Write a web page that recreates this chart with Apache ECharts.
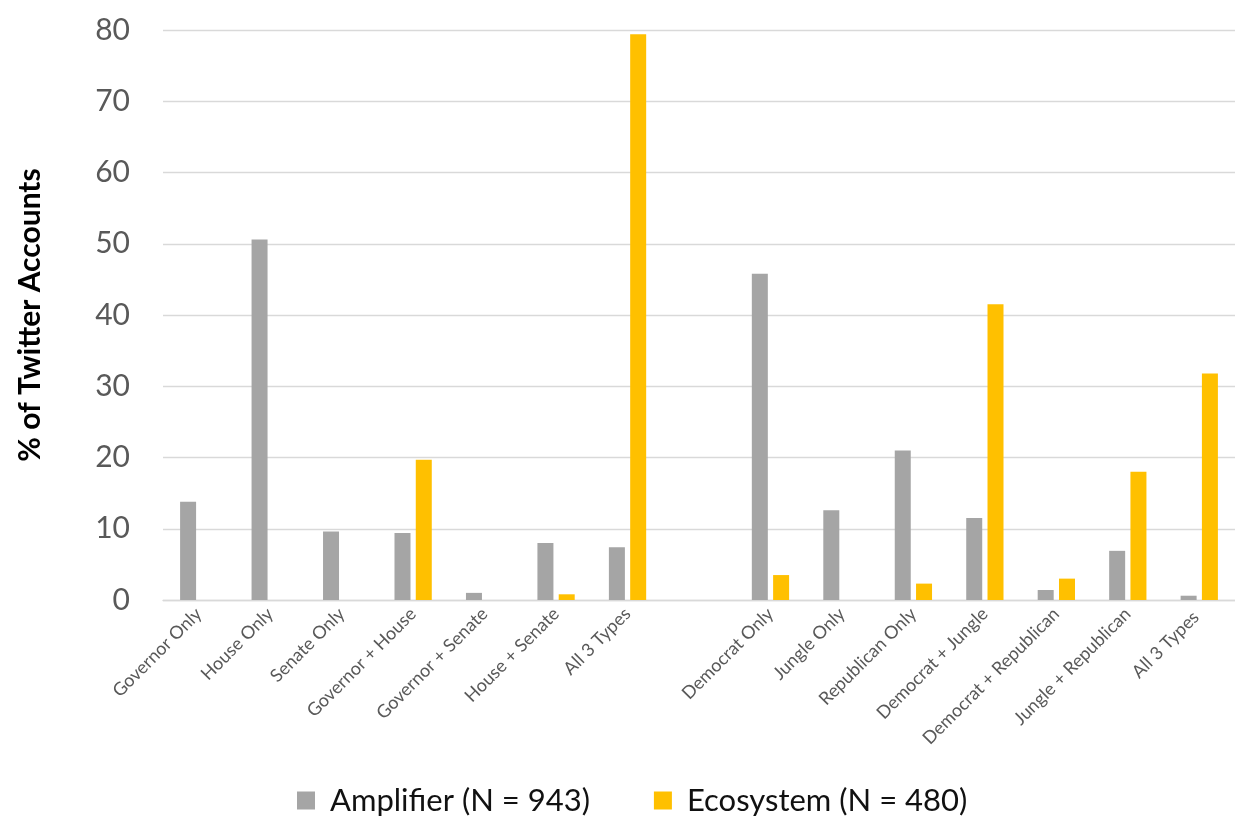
<!DOCTYPE html>
<html>
<head>
<meta charset="utf-8">
<script src="https://cdn.jsdelivr.net/npm/echarts@6/dist/echarts.min.js"></script>
<style>
  html, body { margin: 0; padding: 0; background: #ffffff; }
  #chart { width: 1235px; height: 817px; }
</style>
</head>
<body>
<div id="chart"></div>
<script>
// Office-type combinations (left group) and party/primary combinations (right group),
// separated by one empty slot.
const categories = [
  'Governor Only', 'House Only', 'Senate Only', 'Governor + House',
  'Governor + Senate', 'House + Senate', 'All 3 Types',
  '',
  'Democrat Only', 'Jungle Only', 'Republican Only', 'Democrat + Jungle',
  'Democrat + Republican', 'Jungle + Republican', 'All 3 Types '
];

// % of Twitter accounts per group
const amplifier = [13.8, 50.6, 9.6, 9.4, 1.0, 8.0, 7.4, null, 45.8, 12.6, 21.0, 11.5, 1.4, 6.9, 0.6];
const ecosystem = [null, null, null, 19.7, null, 0.8, 79.4, null, 3.5, null, 2.3, 41.5, 3.0, 18.0, 31.8];

const seriesNames = ['Amplifier (N = 943)', 'Ecosystem (N = 480)'];
const yTicks = { min: 0, max: 80, interval: 10 };

const chart = echarts.init(document.getElementById('chart'), null, { renderer: 'canvas' });

chart.setOption({
  backgroundColor: '#ffffff',
  animation: false,
  grid: { left: 163, right: -8, top: 30, bottom: 217, containLabel: false },
  legend: {
    data: seriesNames,
    left: 292,
    top: 780,
    icon: 'rect',
    itemWidth: 18,
    itemHeight: 18,
    itemGap: 64,
    textStyle: {
      fontFamily: 'Lato',
      fontSize: 31,
      color: '#111111',
      padding: [0, 0, 0, 10]
    }
  },
  xAxis: {
    type: 'category',
    data: categories,
    axisLine: { show: true, lineStyle: { color: '#D9D9D9', width: 1.3 } },
    axisTick: { show: false },
    axisLabel: {
      interval: 0,
      rotate: 45,
      margin: 11,
      fontFamily: 'Lato',
      fontSize: 18,
      color: '#595959'
    }
  },
  yAxis: {
    type: 'value',
    min: yTicks.min,
    max: yTicks.max,
    interval: yTicks.interval,
    name: '% of Twitter Accounts',
    nameLocation: 'middle',
    nameGap: 118,
    nameTextStyle: {
      fontFamily: 'Lato',
      fontWeight: 'bold',
      fontSize: 30,
      color: '#000000'
    },
    axisLine: { show: false },
    axisTick: { show: false },
    splitLine: { lineStyle: { color: '#D9D9D9', width: 1.3 } },
    axisLabel: {
      margin: 33,
      fontFamily: 'Lato',
      fontSize: 30,
      color: '#595959'
    }
  },
  series: [
    {
      name: seriesNames[0],
      type: 'bar',
      data: amplifier,
      barWidth: 16,
      barGap: '33%',
      itemStyle: { color: '#A5A5A5' }
    },
    {
      name: seriesNames[1],
      type: 'bar',
      data: ecosystem,
      barWidth: 16,
      barGap: '33%',
      itemStyle: { color: '#FFC000' }
    }
  ]
});
</script>
</body>
</html>
